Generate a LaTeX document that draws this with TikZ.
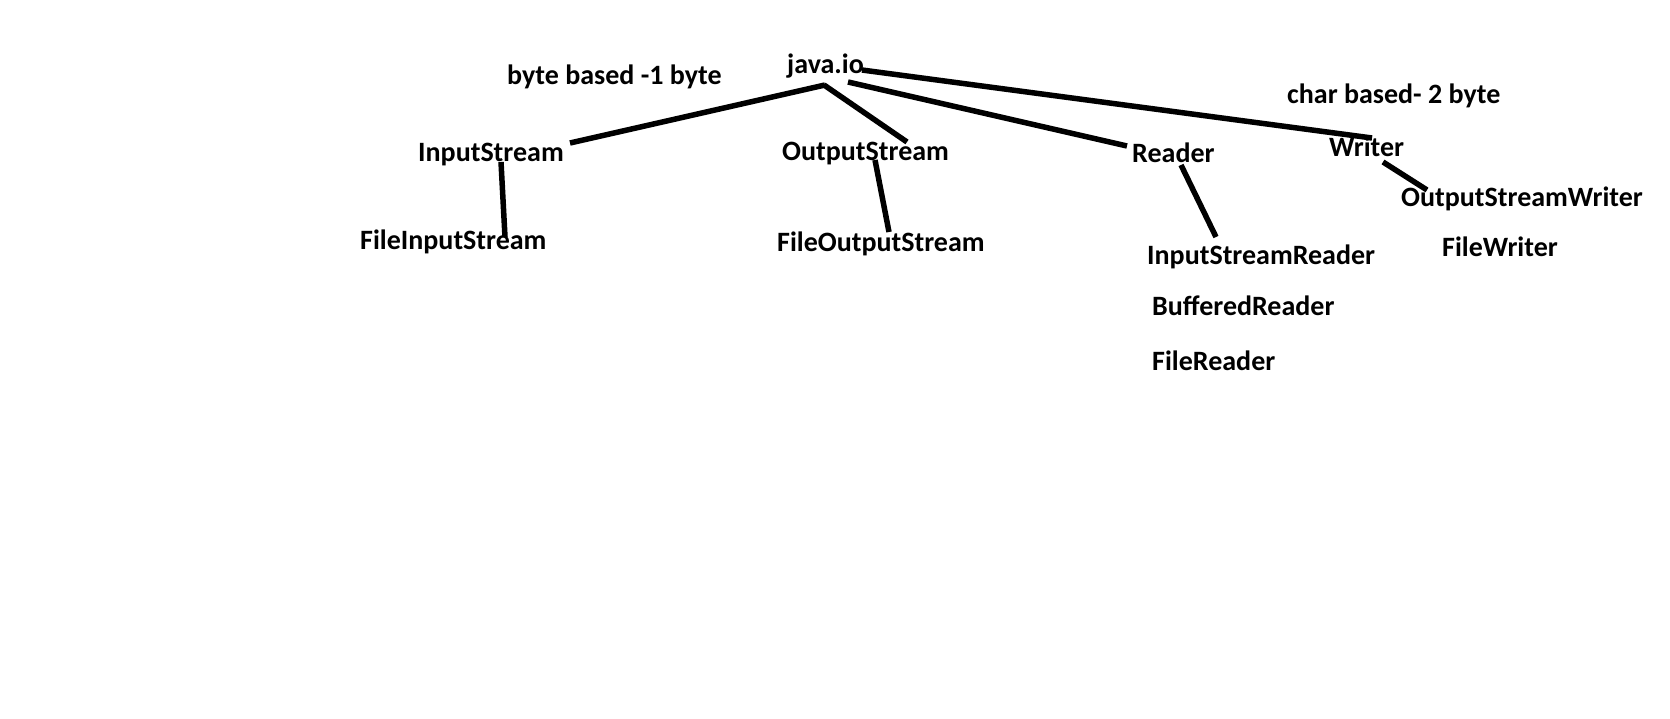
\documentclass[tikz,border=0pt]{standalone}
\usepackage{fontspec}
\setmainfont{Carlito}
\usetikzlibrary{calc}
\begin{document}
\begin{tikzpicture}[x=1pt, y=-1pt, every node/.style={font=\fontsize{28}{33}\selectfont\bfseries, inner sep=0pt, anchor=base west}, stroke/.style={line width=5.5pt}]
        \fill[white] (0,0) rectangle (1670,719);
        \useasboundingbox (0,0) rectangle (1670,719);
        \node (jio) at (787,74) {java.io};
        \node (bytenote) at (507,85) {byte based -1 byte};
        \node (charnote) at (1287,104) {char based- 2 byte};
        \node (istream) at (418,162) {InputStream};
        \node (ostream) at (782,161) {OutputStream};
        \node (reader) at (1132,163) {Reader};
        \node (writer) at (1329,157) {Writer};
        \node (fistream) at (360,250) {FileInputStream};
        \node (fostream) at (777,252) {FileOutputStream};
        \node (isreader) at (1147,265) {InputStreamReader};
        \node (breader) at (1152,315) {BufferedReader};
        \node (freader) at (1152,370) {FileReader};
        \node (oswriter) at (1401,207) {OutputStreamWriter};
        \node (fwriter) at (1442,257) {FileWriter};
        \draw[stroke] ($(jio.base west)+(38,11)$) -- ($(istream.base west)+(152,-19)$);
        \draw[stroke] ($(jio.base west)+(37,11)$) -- ($(ostream.base west)+(125,-19)$);
        \draw[stroke] ($(jio.base west)+(61,8)$) -- ($(reader.base west)+(-5,-17)$);
        \draw[stroke] ($(jio.base west)+(75,-4)$) -- ($(writer.base west)+(43,-19)$);
        \draw[stroke] ($(istream.base west)+(83,0)$) -- ($(fistream.base west)+(145,-13)$);
        \draw[stroke] ($(ostream.base west)+(93,-1)$) -- ($(fostream.base west)+(112,-20)$);
        \draw[stroke] ($(reader.base west)+(49,2)$) -- ($(isreader.base west)+(69,-28)$);
        \draw[stroke] ($(writer.base west)+(54,5)$) -- ($(oswriter.base west)+(26,-17)$);
    \end{tikzpicture}
\end{document}
